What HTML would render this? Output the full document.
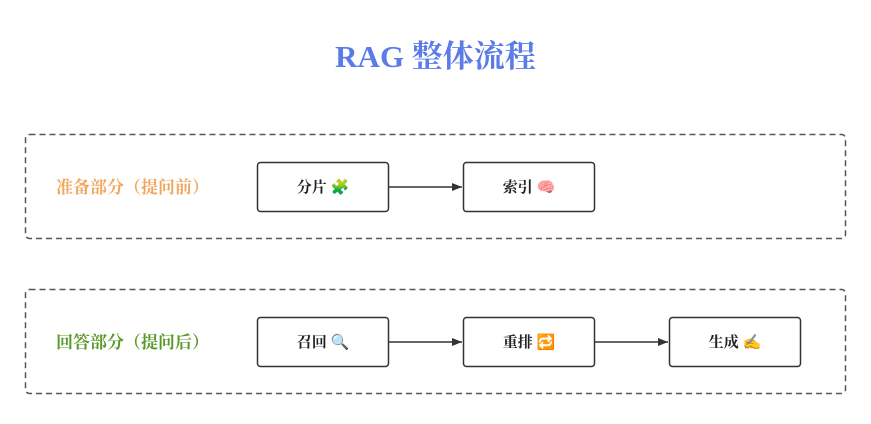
<!DOCTYPE html>
<html><head><meta charset="utf-8"><style>
body{margin:0;background:#fff;width:871px;height:419px;overflow:hidden}
text{font-family:"Liberation Serif","Noto Serif CJK SC",serif}
</style></head><body>
<svg width="871" height="419" xmlns="http://www.w3.org/2000/svg">
<defs><marker id="a" markerWidth="10" markerHeight="8" refX="10" refY="4" orient="auto" markerUnits="userSpaceOnUse"><path d="M0,0L10,4L0,8z" fill="#333"/></marker></defs>
<text x="435.5" y="67" text-anchor="middle" font-size="31" font-weight="bold" fill="#5b7be8">RAG 整体流程</text>
<rect x="25.5" y="134.5" width="820" height="104" rx="4" fill="none" stroke="#555" stroke-width="1.5" stroke-dasharray="6,4"/>
<rect x="25.5" y="289.5" width="820" height="104" rx="4" fill="none" stroke="#555" stroke-width="1.5" stroke-dasharray="6,4"/>
<text x="56" y="193" font-size="17" font-weight="bold" fill="#f0a65c">准备部分（提问前）</text>
<text x="56" y="348" font-size="17" font-weight="bold" fill="#5a9a2a">回答部分（提问后）</text>
<g fill="#fff" stroke="#333" stroke-width="1.5">
<rect x="257.5" y="162.5" width="131" height="49" rx="3"/>
<rect x="463.5" y="162.5" width="131" height="49" rx="3"/>
<rect x="257.5" y="317.5" width="131" height="49" rx="3"/>
<rect x="463.5" y="317.5" width="131" height="49" rx="3"/>
<rect x="669.5" y="317.5" width="131" height="49" rx="3"/>
</g>
<g stroke="#333" stroke-width="1.5" marker-end="url(#a)">
<line x1="389" y1="187" x2="462" y2="187"/>
<line x1="389" y1="342" x2="462" y2="342"/>
<line x1="595" y1="342" x2="668" y2="342"/>
</g>
<g font-size="15" font-weight="bold" fill="#222" text-anchor="middle">
<text x="323" y="192">分片 🧩</text>
<text x="529" y="192">索引 🧠</text>
<text x="323" y="347">召回 🔍</text>
<text x="529" y="347">重排 🔁</text>
<text x="735" y="347">生成 ✍️</text>
</g>
</svg>
</body></html>
